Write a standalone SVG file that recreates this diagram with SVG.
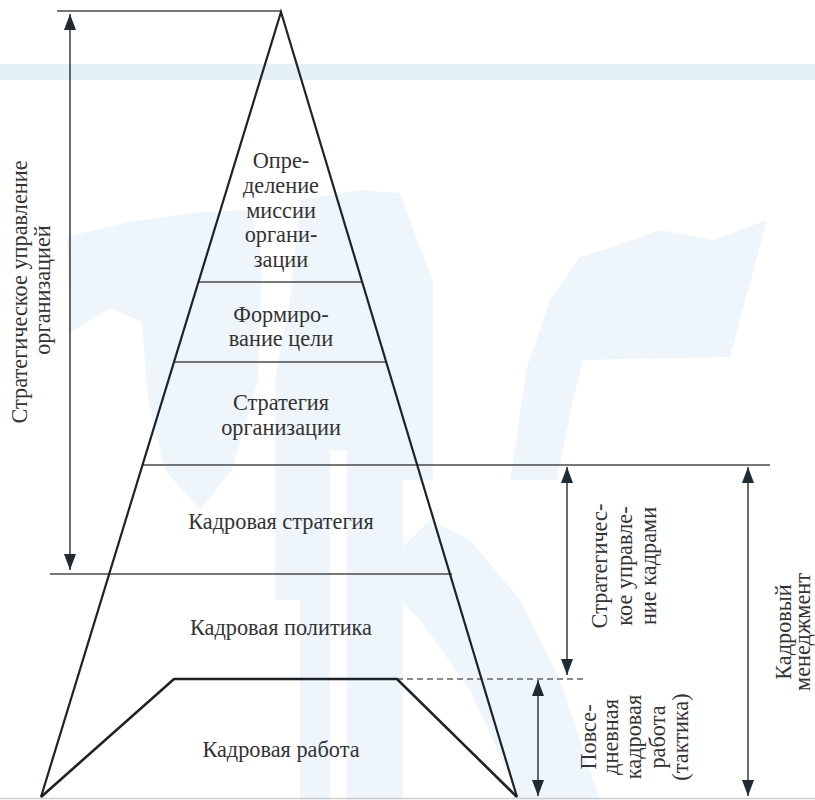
<svg xmlns="http://www.w3.org/2000/svg" width="815" height="800" viewBox="0 0 815 800">
<defs>
<style>
.wm{fill:#e4f1f9;stroke:none}
.wml{fill:#eef6fb;stroke:none}
.edge{fill:none;stroke:#1f2226;stroke-width:2.2;stroke-linejoin:miter}
.trap{fill:none;stroke:#1f2226;stroke-width:2.6;stroke-linejoin:miter}
.hl{fill:none;stroke:#4a4a4a;stroke-width:1.3}
.dash{fill:none;stroke:#666;stroke-width:1.5;stroke-dasharray:6 4}
.arr{fill:none;stroke:#2a2a2a;stroke-width:1.4}
.t{font-family:"Liberation Serif","Times New Roman",serif;font-size:22.3px;fill:#333;text-anchor:middle}
</style>
<marker id="ah2" viewBox="0 0 16 12" refX="16" refY="6" markerWidth="16" markerHeight="12" markerUnits="userSpaceOnUse" orient="auto-start-reverse">
<path d="M0,0 L16,6 L0,12 Z" fill="#1f2a33"/>
</marker>
</defs>
<rect width="815" height="800" fill="#ffffff"/>
<g id="watermark">
<rect class="wm" x="0" y="64" width="815" height="16"/>
<polygon class="wml" points="67,237 130,222 200,212 250,210 262,260 258,380 232,470 200,510 165,470 148,400 142,322 110,308 70,333"/>
<polygon class="wml" points="300,200 360,190 400,193 433,283 433,480 403,480 403,800 347,800 347,450 330,450 330,800 300,800 300,600 275,600 275,380 290,300"/>
<polygon class="wml" points="580,257 613,247 660,230 713,240 767,220 730,357 583,360 573,400 557,480 510,480 527,367 550,300"/>
<polygon class="wml" points="390,560 430,520 470,540 520,600 560,680 600,800 520,800 470,690 420,620 400,600"/>
</g>
<g id="connectors">
<line class="hl" x1="57" y1="11" x2="281" y2="11"/>
<line class="hl" x1="198" y1="282" x2="362" y2="282"/>
<line class="hl" x1="173" y1="362" x2="386" y2="362"/>
<line class="hl" x1="143" y1="465" x2="770" y2="465"/>
<line class="hl" x1="50" y1="574" x2="452" y2="574"/>
<line class="dash" x1="397" y1="679" x2="583" y2="679"/>
<line class="hl" x1="0" y1="798.5" x2="815" y2="798.5" style="stroke:#cfcfcf"/>
<line class="arr" x1="70" y1="14" x2="70" y2="570" marker-start="url(#ah2)" marker-end="url(#ah2)"/>
<line class="arr" x1="567" y1="467" x2="567" y2="675" marker-start="url(#ah2)" marker-end="url(#ah2)"/>
<line class="arr" x1="538" y1="680" x2="538" y2="796" marker-start="url(#ah2)" marker-end="url(#ah2)"/>
<line class="arr" x1="748" y1="467" x2="748" y2="796" marker-start="url(#ah2)" marker-end="url(#ah2)"/>
</g>
<g id="pyramid">
<polyline class="edge" points="41,797 281,12 517,797"/>
<polyline class="trap" points="41,797 174,679 397,679 517,797"/>
</g>
<g id="node-mission">
<text class="t" x="281" y="168">Опре-</text>
<text class="t" x="281" y="193">деление</text>
<text class="t" x="281" y="218">миссии</text>
<text class="t" x="281" y="242">органи-</text>
<text class="t" x="281" y="267">зации</text>
</g>
<g id="node-goal">
<text class="t" x="281" y="322">Формиро-</text>
<text class="t" x="281" y="346">вание цели</text>
</g>
<g id="node-org-strategy">
<text class="t" x="281" y="410">Стратегия</text>
<text class="t" x="281" y="435">организации</text>
</g>
<g id="node-hr-strategy">
<text class="t" x="281" y="529">Кадровая стратегия</text>
</g>
<g id="node-hr-policy">
<text class="t" x="281" y="635">Кадровая политика</text>
</g>
<g id="node-hr-work">
<text class="t" x="281" y="757">Кадровая работа</text>
</g>
<g id="label-strategic-org">
<text class="t" transform="translate(27,292) rotate(-90)">Стратегическое управление</text>
<text class="t" transform="translate(50,290) rotate(-90)">организацией</text>
</g>
<g id="label-strategic-hr">
<text class="t" transform="translate(607,566) rotate(-90)">Стратегичес-</text>
<text class="t" transform="translate(632,566) rotate(-90)">кое управле-</text>
<text class="t" transform="translate(656,566) rotate(-90)">ние кадрами</text>
</g>
<g id="label-daily">
<text class="t" transform="translate(596,737) rotate(-90)">Повсе-</text>
<text class="t" transform="translate(618,737) rotate(-90)">дневная</text>
<text class="t" transform="translate(641,737) rotate(-90)">кадровая</text>
<text class="t" transform="translate(665,737) rotate(-90)">работа</text>
<text class="t" transform="translate(688,737) rotate(-90)">(тактика)</text>
</g>
<g id="label-hr-management">
<text class="t" transform="translate(791,632) rotate(-90)">Кадровый</text>
<text class="t" transform="translate(810,632) rotate(-90)">менеджмент</text>
</g>
</svg>
